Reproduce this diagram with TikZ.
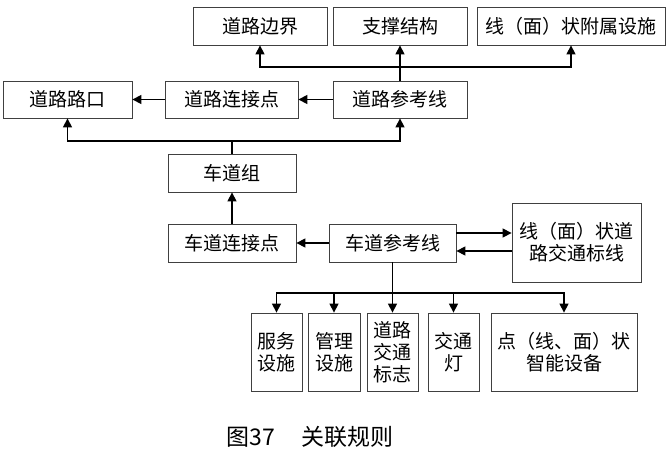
\documentclass[tikz,border=0pt]{standalone}
\usepackage{fontspec}
\usepackage{tikz}
\usepackage{xcolor}
\usetikzlibrary{arrows.meta,positioning,calc}
\setmainfont{Noto Sans CJK SC}
\newfontfamily\cjk{Noto Sans CJK SC}

\tikzset{
  box/.style={draw=black!75, line width=0.8pt, rectangle, inner sep=0pt,
    align=center, font=\cjk\fontsize{19}{22}\selectfont},
  arr/.style={-{Triangle[length=9pt,width=9pt]}, line width=1.3pt},
  lnk/.style={line width=1.3pt}
}

\begin{document}
\begin{tikzpicture}[x=1pt, y=-1pt]
    \useasboundingbox (0,0) rectangle (672,458);

    % Top row
    \node[box, minimum width=134pt, minimum height=38pt] (bianjie) at (260,26) {道路边界};
    \node[box, minimum width=134pt, minimum height=38pt] (zhicheng) at (400,26) {支撑结构};
    \node[box, minimum width=188pt, minimum height=38pt] (fushu) at (571,26) {线（面）状附属设施};

    % Road row
    \node[box, minimum width=129pt, minimum height=37pt] (lukou) at (67.5,99.5) {道路路口};
    \node[box, minimum width=133pt, minimum height=37pt] (dllj) at (231.5,99.5) {道路连接点};
    \node[box, minimum width=134pt, minimum height=37pt] (dlck) at (400,99.5) {道路参考线};

    % Lane group
    \node[box, minimum width=128pt, minimum height=38pt] (cdz) at (232,173) {车道组};
    \node[box, minimum width=128pt, minimum height=38pt] (cdlj) at (232,243) {车道连接点};
    \node[box, minimum width=127pt, minimum height=38pt] (cdck) at (392.5,243) {车道参考线};
    \node[box, minimum width=129pt, minimum height=79pt] (biaoxian) at (576.5,242.5) {线（面）状道\\路交通标线};

    % Bottom row
    \node[box, minimum width=51pt, minimum height=78pt] (fuwu) at (276.5,352) {服务\\设施};
    \node[box, minimum width=52pt, minimum height=78pt] (guanli) at (334,352) {管理\\设施};
    \node[box, minimum width=51pt, minimum height=78pt] (biaozhi) at (392.5,352) {道路\\交通\\标志};
    \node[box, minimum width=51pt, minimum height=78pt] (deng) at (453.5,352) {交通\\灯};
    \node[box, minimum width=146pt, minimum height=78pt] (zhineng) at (564,352) {点（线、面）状\\智能设备};

    % Junctions
    \coordinate (j1) at (400,67);
    \coordinate (j2) at (232,141);
    \coordinate (j3) at (392.5,293);

    % Connectors
    \draw[lnk] (dlck.north) -- (j1);
    \draw[arr] (j1) -- (zhicheng.south);
    \draw[arr] (j1) -| (bianjie.south);
    \draw[arr] (j1) -| (fushu.south);
    \draw[arr] (dlck.west) -- (dllj.east);
    \draw[arr] (dllj.west) -- (lukou.east);
    \draw[lnk] (cdz.north) -- (j2);
    \draw[arr] (j2) -| (lukou.south);
    \draw[arr] (j2) -| (dlck.south);
    \draw[arr] (cdlj.north) -- (cdz.south);
    \draw[arr] (cdck.west) -- (cdlj.east);
    \draw[arr] ($(cdck.east)+(0,-10)$) -- ($(biaoxian.west)+(0,-9.5)$);
    \draw[arr] ($(biaoxian.west)+(0,8.5)$) -- ($(cdck.east)+(0,8)$);
    \draw[lnk] (cdck.south) -- (j3);
    \foreach \n in {fuwu,guanli,biaozhi,deng,zhineng}
        \draw[arr] (j3) -| (\n.north);

    % Caption
    \node[font=\cjk\fontsize{23}{26}\selectfont] (caption) at (310,437) {图37\hspace{26pt}关联规则};
\end{tikzpicture}
\end{document}
